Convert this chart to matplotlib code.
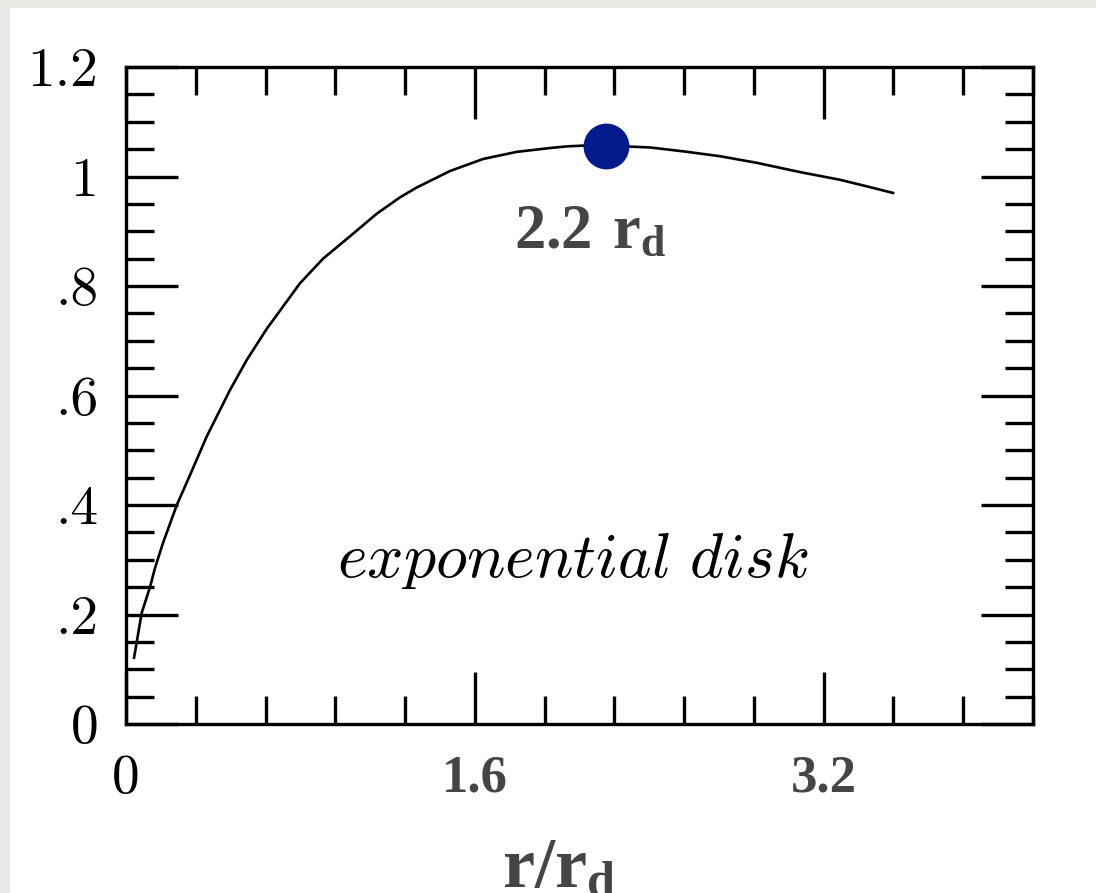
import matplotlib.pyplot as plt
from matplotlib.patches import Rectangle
from matplotlib.ticker import MultipleLocator, FixedLocator

plt.rcParams['mathtext.fontset'] = 'custom'
plt.rcParams['mathtext.rm'] = 'Liberation Serif'
plt.rcParams['mathtext.bf'] = 'Liberation Serif:bold'

# rotation curve of the exponential disk
r_over_rd = [0.037, 0.072, 0.110, 0.133, 0.170, 0.233, 0.294, 0.370, 0.477,
             0.554, 0.646, 0.798, 0.904, 1.028, 1.150, 1.257, 1.334, 1.486,
             1.638, 1.792, 1.945, 2.022, 2.130, 2.234, 2.404, 2.555, 2.725,
             2.893, 3.092, 3.275, 3.398, 3.518]
v_norm = [0.121, 0.203, 0.250, 0.285, 0.331, 0.400, 0.455, 0.525, 0.610,
          0.665, 0.722, 0.805, 0.850, 0.891, 0.932, 0.962, 0.980, 1.010,
          1.032, 1.045, 1.052, 1.055, 1.057, 1.056, 1.053, 1.046, 1.037,
          1.025, 1.008, 0.994, 0.982, 0.970]

peak_r = 2.2
peak_v = 1.056

x_ticks = [0, 1.6, 3.2]
x_tick_labels = ['0', '1.6', '3.2']
y_ticks = [0, 0.2, 0.4, 0.6, 0.8, 1.0, 1.2]
y_tick_labels = ['0', '.2', '.4', '.6', '.8', '1', '1.2']

gray_txt = '#454545'
navy = '#021b8c'

fig = plt.figure(figsize=(10.96, 8.93), dpi=100)
fig.patch.set_facecolor('#ebe9e5')
fig.patches.append(Rectangle((10 / 1096, 0), 1, (893 - 8) / 893,
                             transform=fig.transFigure, facecolor='white',
                             edgecolor='none', zorder=-1))

ax = fig.add_axes([126 / 1096, (893 - 724) / 893, 907 / 1096, 657 / 893])
ax.set_zorder(2)
ax.set_facecolor('none')
ax.set_xlim(0, 4.16)
ax.set_ylim(0, 1.2)

ax.plot(r_over_rd, v_norm, color='black', lw=1.9, solid_joinstyle='round')
ax.plot([peak_r], [peak_v], 'o', ms=33, color=navy, mec='none', zorder=5)

for s in ax.spines.values():
    s.set_linewidth(2.4)

ax.xaxis.set_major_locator(FixedLocator(x_ticks))
ax.xaxis.set_minor_locator(MultipleLocator(0.32))
ax.yaxis.set_major_locator(FixedLocator(y_ticks))
ax.yaxis.set_minor_locator(MultipleLocator(0.05))
ax.tick_params(which='both', direction='in', top=True, right=True, width=2.4)
ax.tick_params(which='major', length=37.5)
ax.tick_params(which='minor', length=20)
ax.tick_params(axis='y', which='major', pad=20)
ax.tick_params(axis='x', which='major', pad=22)

ax.set_yticklabels(y_tick_labels, fontfamily='cmr10', fontsize=40)
xl = ax.set_xticklabels(x_tick_labels)
xl[0].set_fontfamily('cmr10')
xl[0].set_fontsize(40)
for t in xl[1:]:
    t.set_fontfamily('Liberation Serif')
    t.set_fontweight('bold')
    t.set_fontsize(38)
    t.set_color(gray_txt)

ax.text(2.05, 0.30, r'$exponential\ disk$', math_fontfamily='cm',
        fontsize=46, ha='center', va='center')
ax.text(2.13, 0.868, r'$\mathbf{2.2\ r_d}$', fontsize=45, color=gray_txt,
        ha='center', va='baseline')

fig.text(559 / 1096, 5 / 893, r'$\mathbf{r/r_d}$', fontsize=52,
         color=gray_txt, ha='center', va='baseline')

fig.savefig('out.png', dpi=100, facecolor=fig.get_facecolor())
